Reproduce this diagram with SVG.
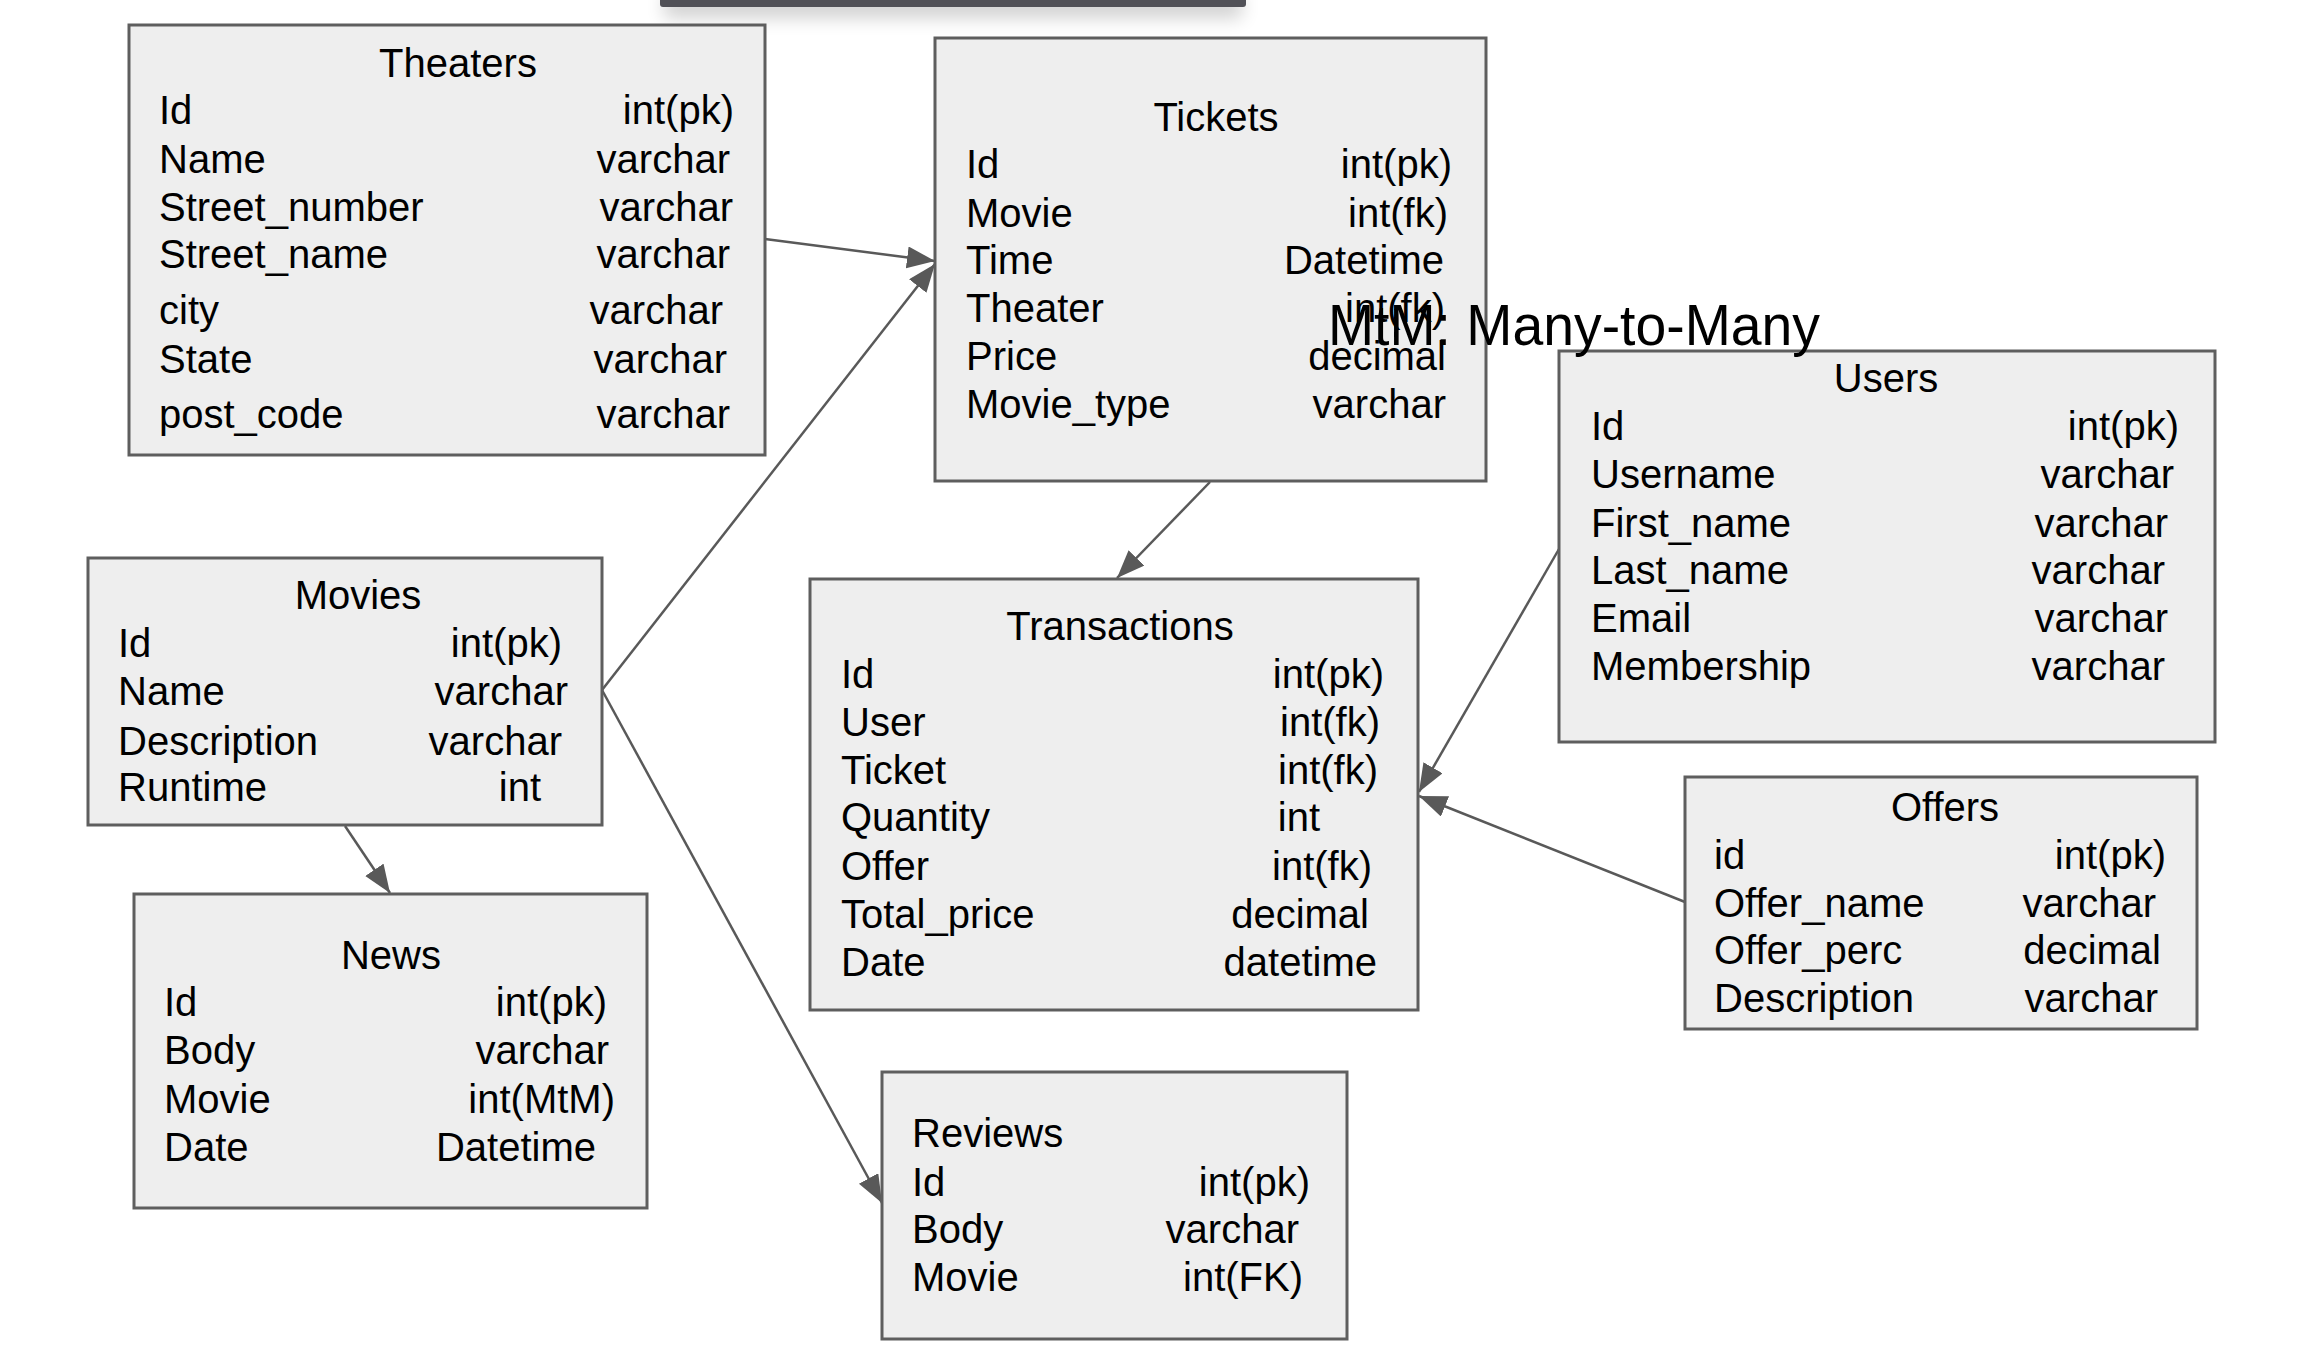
<svg xmlns="http://www.w3.org/2000/svg" width="2302" height="1362" viewBox="0 0 2302 1362">
<style>
.box{fill:#eeeeee;stroke:#5e5e5e;stroke-width:3}
.t{font-family:"Liberation Sans",Arial,sans-serif;font-size:40px;fill:#000}
.c{text-anchor:middle}
.r{text-anchor:end}
.conn{stroke:#595959;stroke-width:2.5;fill:none;marker-end:url(#arr)}
</style>
<defs>
<marker id="arr" markerUnits="userSpaceOnUse" markerWidth="30" markerHeight="24" refX="28" refY="11" orient="auto">
<path d="M0,0 L28,11 L0,22 Z" fill="#595959"/>
</marker>
<filter id="sh" x="-10%" y="-100%" width="120%" height="400%">
<feGaussianBlur stdDeviation="9"/>
</filter>
</defs>
<rect width="2302" height="1362" fill="#ffffff"/>
<g id="topbar">
<rect x="664" y="-6" width="578" height="24" fill="#000" opacity="0.18" filter="url(#sh)"/>
<path d="M660,0 H1246 V4 Q1246,7 1243,7 H663 Q660,7 660,4 Z" fill="#515157"/>
</g>
<g id="connectors">
<line class="conn" x1="765" y1="239" x2="935" y2="261"/>
<line class="conn" x1="602" y1="690" x2="935" y2="264"/>
<line class="conn" x1="602" y1="690" x2="882" y2="1203"/>
<line class="conn" x1="345" y1="826" x2="390" y2="893"/>
<line class="conn" x1="1210" y1="482" x2="1117" y2="578"/>
<line class="conn" x1="1559" y1="549" x2="1419" y2="792"/>
<line class="conn" x1="1685" y1="902" x2="1419" y2="796"/>
</g>
<g id="theaters">
<rect class="box" x="129" y="25" width="636" height="430"/>
<text class="t c" x="458" y="77">Theaters</text>
<text class="t" x="159" y="124">Id</text><text class="t r" x="734" y="124">int(pk)</text>
<text class="t" x="159" y="173">Name</text><text class="t r" x="730" y="173">varchar</text>
<text class="t" x="159" y="221">Street_number</text><text class="t r" x="733" y="221">varchar</text>
<text class="t" x="159" y="268">Street_name</text><text class="t r" x="730" y="268">varchar</text>
<text class="t" x="159" y="324">city</text><text class="t r" x="723" y="324">varchar</text>
<text class="t" x="159" y="373">State</text><text class="t r" x="727" y="373">varchar</text>
<text class="t" x="159" y="428">post_code</text><text class="t r" x="730" y="428">varchar</text>
</g>
<g id="tickets">
<rect class="box" x="935" y="38" width="551" height="443"/>
<text class="t c" x="1216" y="131">Tickets</text>
<text class="t" x="966" y="178">Id</text><text class="t r" x="1452" y="178">int(pk)</text>
<text class="t" x="966" y="227">Movie</text><text class="t r" x="1448" y="227">int(fk)</text>
<text class="t" x="966" y="274">Time</text><text class="t r" x="1444" y="274">Datetime</text>
<text class="t" x="966" y="322">Theater</text><text class="t r" x="1445" y="322">int(fk)</text>
<text class="t" x="966" y="370">Price</text><text class="t r" x="1446" y="370">decimal</text>
<text class="t" x="966" y="418">Movie_type</text><text class="t r" x="1446" y="418">varchar</text>
</g>
<g id="users">
<rect class="box" x="1559" y="351" width="656" height="391"/>
<text class="t c" x="1886" y="392">Users</text>
<text class="t" x="1591" y="440">Id</text><text class="t r" x="2179" y="440">int(pk)</text>
<text class="t" x="1591" y="488">Username</text><text class="t r" x="2174" y="488">varchar</text>
<text class="t" x="1591" y="537">First_name</text><text class="t r" x="2168" y="537">varchar</text>
<text class="t" x="1591" y="584">Last_name</text><text class="t r" x="2165" y="584">varchar</text>
<text class="t" x="1591" y="632">Email</text><text class="t r" x="2168" y="632">varchar</text>
<text class="t" x="1591" y="680">Membership</text><text class="t r" x="2165" y="680">varchar</text>
</g>
<g id="movies">
<rect class="box" x="88" y="558" width="514" height="267"/>
<text class="t c" x="358" y="609">Movies</text>
<text class="t" x="118" y="657">Id</text><text class="t r" x="562" y="657">int(pk)</text>
<text class="t" x="118" y="705">Name</text><text class="t r" x="568" y="705">varchar</text>
<text class="t" x="118" y="755">Description</text><text class="t r" x="562" y="755">varchar</text>
<text class="t" x="118" y="801">Runtime</text><text class="t r" x="541" y="801">int</text>
</g>
<g id="news">
<rect class="box" x="134" y="894" width="513" height="314"/>
<text class="t c" x="391" y="969">News</text>
<text class="t" x="164" y="1016">Id</text><text class="t r" x="607" y="1016">int(pk)</text>
<text class="t" x="164" y="1064">Body</text><text class="t r" x="609" y="1064">varchar</text>
<text class="t" x="164" y="1113">Movie</text><text class="t r" x="615" y="1113">int(MtM)</text>
<text class="t" x="164" y="1161">Date</text><text class="t r" x="596" y="1161">Datetime</text>
</g>
<g id="transactions">
<rect class="box" x="810" y="579" width="608" height="431"/>
<text class="t c" x="1120" y="640">Transactions</text>
<text class="t" x="841" y="688">Id</text><text class="t r" x="1384" y="688">int(pk)</text>
<text class="t" x="841" y="736">User</text><text class="t r" x="1380" y="736">int(fk)</text>
<text class="t" x="841" y="784">Ticket</text><text class="t r" x="1378" y="784">int(fk)</text>
<text class="t" x="841" y="831">Quantity</text><text class="t r" x="1320" y="831">int</text>
<text class="t" x="841" y="880">Offer</text><text class="t r" x="1372" y="880">int(fk)</text>
<text class="t" x="841" y="928">Total_price</text><text class="t r" x="1369" y="928">decimal</text>
<text class="t" x="841" y="976">Date</text><text class="t r" x="1377" y="976">datetime</text>
</g>
<g id="offers">
<rect class="box" x="1685" y="777" width="512" height="252"/>
<text class="t c" x="1945" y="821">Offers</text>
<text class="t" x="1714" y="869">id</text><text class="t r" x="2166" y="869">int(pk)</text>
<text class="t" x="1714" y="917">Offer_name</text><text class="t r" x="2156" y="917">varchar</text>
<text class="t" x="1714" y="964">Offer_perc</text><text class="t r" x="2161" y="964">decimal</text>
<text class="t" x="1714" y="1012">Description</text><text class="t r" x="2158" y="1012">varchar</text>
</g>
<g id="reviews">
<rect class="box" x="882" y="1072" width="465" height="267"/>
<text class="t" x="912" y="1147">Reviews</text>
<text class="t" x="912" y="1196">Id</text><text class="t r" x="1310" y="1196">int(pk)</text>
<text class="t" x="912" y="1243">Body</text><text class="t r" x="1299" y="1243">varchar</text>
<text class="t" x="912" y="1291">Movie</text><text class="t r" x="1303" y="1291">int(FK)</text>
</g>
<g id="mtm-label">
<text class="t" x="1328" y="345" style="font-size:57px" textLength="492" lengthAdjust="spacingAndGlyphs">MtM: Many-to-Many</text>
</g>
</svg>
